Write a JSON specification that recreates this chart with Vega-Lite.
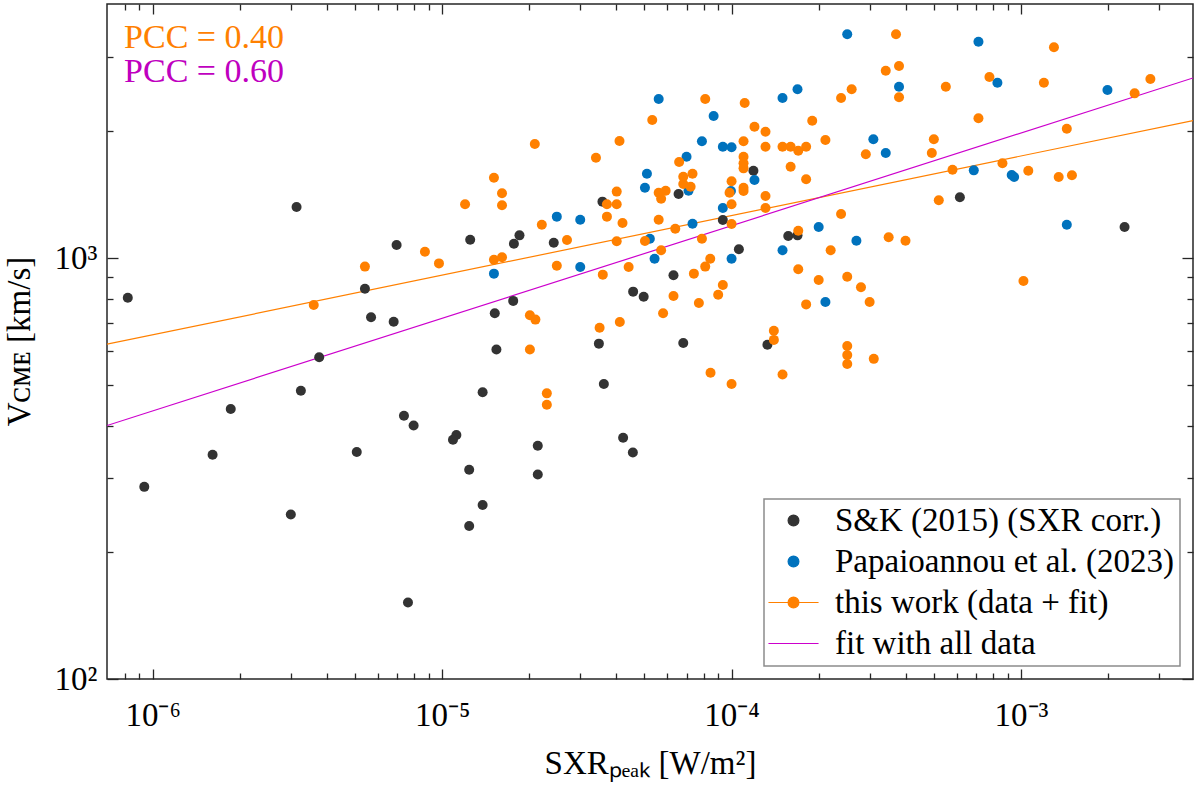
{
  "$schema": "https://vega.github.io/schema/vega-lite/v6.json",
  "width": 1086,
  "height": 675,
  "autosize": {"type": "none"},
  "padding": {"left": 107, "top": 4, "right": 7, "bottom": 109},
  "background": "white",
  "config": {
    "font": "Liberation Serif",
    "view": {"stroke": "#262626", "strokeWidth": 1.5},
    "axis": {
      "grid": false,
      "domain": false,
      "tickColor": "#262626",
      "tickWidth": 1.3,
      "labelFont": "Liberation Serif",
      "labelFontSize": 33,
      "labelColor": "#000000",
      "titleFont": "Liberation Serif",
      "titleFontSize": 33,
      "titleFontWeight": "normal",
      "titleColor": "#000000",
      "labelOverlap": false,
      "labelFlush": false,
      "labelBound": false
    }
  },
  "datasets": {
    "fits": [
      {"sxr": 6.95e-7, "v": 624, "series": "tw"},
      {"sxr": 3.93e-3, "v": 2121, "series": "tw"},
      {"sxr": 6.95e-7, "v": 400, "series": "all"},
      {"sxr": 3.93e-3, "v": 2677, "series": "all"}
    ],
    "notes": [
      {"sxr": 7.96e-7, "v": 3155, "note": "PCC = 0.40"},
      {"sxr": 7.96e-7, "v": 2620, "note": "PCC = 0.60"}
    ],
    "points": [
      {"sxr": 3.14e-6, "v": 1322, "series": "sk"},
      {"sxr": 6.96e-6, "v": 1074, "series": "sk"},
      {"sxr": 5.41e-6, "v": 845, "series": "sk"},
      {"sxr": 8.2e-7, "v": 805, "series": "sk"},
      {"sxr": 5.68e-6, "v": 723, "series": "sk"},
      {"sxr": 6.80e-6, "v": 706, "series": "sk"},
      {"sxr": 3.76e-6, "v": 581, "series": "sk"},
      {"sxr": 3.25e-6, "v": 484, "series": "sk"},
      {"sxr": 1.86e-6, "v": 438, "series": "sk"},
      {"sxr": 1.61e-6, "v": 341, "series": "sk"},
      {"sxr": 9.35e-7, "v": 286, "series": "sk"},
      {"sxr": 3.0e-6, "v": 246, "series": "sk"},
      {"sxr": 5.07e-6, "v": 346, "series": "sk"},
      {"sxr": 7.38e-6, "v": 422, "series": "sk"},
      {"sxr": 7.97e-6, "v": 400, "series": "sk"},
      {"sxr": 7.62e-6, "v": 152, "series": "sk"},
      {"sxr": 1.25e-5, "v": 1105, "series": "sk"},
      {"sxr": 1.77e-5, "v": 1081, "series": "sk"},
      {"sxr": 1.85e-5, "v": 1132, "series": "sk"},
      {"sxr": 1.76e-5, "v": 791, "series": "sk"},
      {"sxr": 2.43e-5, "v": 1087, "series": "sk"},
      {"sxr": 3.58e-5, "v": 1361, "series": "sk"},
      {"sxr": 6.56e-5, "v": 1419, "series": "sk"},
      {"sxr": 6.30e-5, "v": 910, "series": "sk"},
      {"sxr": 4.57e-5, "v": 832, "series": "sk"},
      {"sxr": 4.97e-5, "v": 809, "series": "sk"},
      {"sxr": 1.19e-4, "v": 1612, "series": "sk"},
      {"sxr": 9.33e-5, "v": 1231, "series": "sk"},
      {"sxr": 1.06e-4, "v": 1049, "series": "sk"},
      {"sxr": 1.57e-4, "v": 1128, "series": "sk"},
      {"sxr": 1.69e-4, "v": 1132, "series": "sk"},
      {"sxr": 6.15e-4, "v": 1394, "series": "sk"},
      {"sxr": 2.28e-3, "v": 1185, "series": "sk"},
      {"sxr": 1.52e-5, "v": 739, "series": "sk"},
      {"sxr": 1.54e-5, "v": 606, "series": "sk"},
      {"sxr": 1.38e-5, "v": 480, "series": "sk"},
      {"sxr": 1.12e-5, "v": 380, "series": "sk"},
      {"sxr": 1.09e-5, "v": 370, "series": "sk"},
      {"sxr": 2.14e-5, "v": 358, "series": "sk"},
      {"sxr": 1.24e-5, "v": 314, "series": "sk"},
      {"sxr": 2.14e-5, "v": 306, "series": "sk"},
      {"sxr": 1.38e-5, "v": 259, "series": "sk"},
      {"sxr": 1.24e-5, "v": 231, "series": "sk"},
      {"sxr": 3.48e-5, "v": 626, "series": "sk"},
      {"sxr": 6.81e-5, "v": 628, "series": "sk"},
      {"sxr": 1.33e-4, "v": 622, "series": "sk"},
      {"sxr": 3.62e-5, "v": 502, "series": "sk"},
      {"sxr": 4.22e-5, "v": 374, "series": "sk"},
      {"sxr": 4.56e-5, "v": 345, "series": "sk"},
      {"sxr": 1.51e-5, "v": 918, "series": "pap"},
      {"sxr": 2.49e-5, "v": 1254, "series": "pap"},
      {"sxr": 3.0e-5, "v": 1233, "series": "pap"},
      {"sxr": 3.0e-5, "v": 952, "series": "pap"},
      {"sxr": 5.60e-5, "v": 2387, "series": "pap"},
      {"sxr": 5.10e-5, "v": 1586, "series": "pap"},
      {"sxr": 5.02e-5, "v": 1469, "series": "pap"},
      {"sxr": 5.22e-5, "v": 1111, "series": "pap"},
      {"sxr": 5.42e-5, "v": 996, "series": "pap"},
      {"sxr": 6.99e-5, "v": 1740, "series": "pap"},
      {"sxr": 7.10e-5, "v": 1445, "series": "pap"},
      {"sxr": 7.33e-5, "v": 1206, "series": "pap"},
      {"sxr": 8.67e-5, "v": 2175, "series": "pap"},
      {"sxr": 7.90e-5, "v": 1893, "series": "pap"},
      {"sxr": 9.33e-5, "v": 1838, "series": "pap"},
      {"sxr": 1.0e-4, "v": 1832, "series": "pap"},
      {"sxr": 1.20e-4, "v": 1532, "series": "pap"},
      {"sxr": 9.95e-5, "v": 1443, "series": "pap"},
      {"sxr": 9.33e-5, "v": 1315, "series": "pap"},
      {"sxr": 1.0e-4, "v": 996, "series": "pap"},
      {"sxr": 1.50e-4, "v": 2399, "series": "pap"},
      {"sxr": 1.69e-4, "v": 2516, "series": "pap"},
      {"sxr": 1.50e-4, "v": 1043, "series": "pap"},
      {"sxr": 2.51e-4, "v": 3400, "series": "pap"},
      {"sxr": 7.13e-4, "v": 3265, "series": "pap"},
      {"sxr": 3.79e-4, "v": 2552, "series": "pap"},
      {"sxr": 8.29e-4, "v": 2608, "series": "pap"},
      {"sxr": 1.99e-3, "v": 2506, "series": "pap"},
      {"sxr": 3.09e-4, "v": 1914, "series": "pap"},
      {"sxr": 3.41e-4, "v": 1776, "series": "pap"},
      {"sxr": 6.87e-4, "v": 1615, "series": "pap"},
      {"sxr": 9.29e-4, "v": 1574, "series": "pap"},
      {"sxr": 9.47e-4, "v": 1557, "series": "pap"},
      {"sxr": 2.0e-4, "v": 1185, "series": "pap"},
      {"sxr": 2.70e-4, "v": 1099, "series": "pap"},
      {"sxr": 1.44e-3, "v": 1200, "series": "pap"},
      {"sxr": 2.11e-4, "v": 786, "series": "pap"},
      {"sxr": 5.41e-6, "v": 954, "series": "tw"},
      {"sxr": 3.60e-6, "v": 773, "series": "tw"},
      {"sxr": 8.72e-6, "v": 1035, "series": "tw"},
      {"sxr": 9.75e-6, "v": 971, "series": "tw"},
      {"sxr": 1.20e-5, "v": 1342, "series": "tw"},
      {"sxr": 1.51e-5, "v": 1551, "series": "tw"},
      {"sxr": 1.61e-5, "v": 1425, "series": "tw"},
      {"sxr": 1.61e-5, "v": 1334, "series": "tw"},
      {"sxr": 2.09e-5, "v": 1866, "series": "tw"},
      {"sxr": 1.51e-5, "v": 991, "series": "tw"},
      {"sxr": 1.61e-5, "v": 1004, "series": "tw"},
      {"sxr": 2.21e-5, "v": 1200, "series": "tw"},
      {"sxr": 2.70e-5, "v": 1103, "series": "tw"},
      {"sxr": 2.49e-5, "v": 959, "series": "tw"},
      {"sxr": 3.40e-5, "v": 1730, "series": "tw"},
      {"sxr": 3.71e-5, "v": 1342, "series": "tw"},
      {"sxr": 4.01e-5, "v": 1438, "series": "tw"},
      {"sxr": 4.01e-5, "v": 1342, "series": "tw"},
      {"sxr": 3.71e-5, "v": 1254, "series": "tw"},
      {"sxr": 4.20e-5, "v": 1211, "series": "tw"},
      {"sxr": 4.01e-5, "v": 1096, "series": "tw"},
      {"sxr": 3.59e-5, "v": 913, "series": "tw"},
      {"sxr": 4.41e-5, "v": 952, "series": "tw"},
      {"sxr": 4.10e-5, "v": 1896, "series": "tw"},
      {"sxr": 5.32e-5, "v": 2127, "series": "tw"},
      {"sxr": 5.60e-5, "v": 1429, "series": "tw"},
      {"sxr": 5.92e-5, "v": 1445, "series": "tw"},
      {"sxr": 5.71e-5, "v": 1383, "series": "tw"},
      {"sxr": 5.60e-5, "v": 1233, "series": "tw"},
      {"sxr": 5.02e-5, "v": 1097, "series": "tw"},
      {"sxr": 5.71e-5, "v": 1043, "series": "tw"},
      {"sxr": 6.39e-5, "v": 1174, "series": "tw"},
      {"sxr": 6.30e-5, "v": 812, "series": "tw"},
      {"sxr": 6.59e-5, "v": 1690, "series": "tw"},
      {"sxr": 6.81e-5, "v": 1560, "series": "tw"},
      {"sxr": 7.33e-5, "v": 1586, "series": "tw"},
      {"sxr": 6.81e-5, "v": 1499, "series": "tw"},
      {"sxr": 7.22e-5, "v": 1477, "series": "tw"},
      {"sxr": 7.90e-5, "v": 1111, "series": "tw"},
      {"sxr": 7.41e-5, "v": 918, "series": "tw"},
      {"sxr": 8.44e-5, "v": 996, "series": "tw"},
      {"sxr": 8.11e-5, "v": 954, "series": "tw"},
      {"sxr": 9.33e-5, "v": 863, "series": "tw"},
      {"sxr": 8.99e-5, "v": 818, "series": "tw"},
      {"sxr": 8.11e-5, "v": 2387, "series": "tw"},
      {"sxr": 1.11e-4, "v": 2335, "series": "tw"},
      {"sxr": 1.10e-4, "v": 1893, "series": "tw"},
      {"sxr": 1.10e-4, "v": 1740, "series": "tw"},
      {"sxr": 1.10e-4, "v": 1679, "series": "tw"},
      {"sxr": 1.10e-4, "v": 1633, "series": "tw"},
      {"sxr": 1.0e-4, "v": 1521, "series": "tw"},
      {"sxr": 9.84e-5, "v": 1429, "series": "tw"},
      {"sxr": 1.10e-4, "v": 1469, "series": "tw"},
      {"sxr": 1.10e-4, "v": 1443, "series": "tw"},
      {"sxr": 1.0e-4, "v": 1342, "series": "tw"},
      {"sxr": 1.0e-4, "v": 1204, "series": "tw"},
      {"sxr": 1.31e-4, "v": 1404, "series": "tw"},
      {"sxr": 1.31e-4, "v": 1315, "series": "tw"},
      {"sxr": 1.20e-4, "v": 2051, "series": "tw"},
      {"sxr": 1.31e-4, "v": 1995, "series": "tw"},
      {"sxr": 1.31e-4, "v": 1838, "series": "tw"},
      {"sxr": 1.50e-4, "v": 1838, "series": "tw"},
      {"sxr": 1.60e-4, "v": 1838, "series": "tw"},
      {"sxr": 1.70e-4, "v": 1798, "series": "tw"},
      {"sxr": 1.81e-4, "v": 1838, "series": "tw"},
      {"sxr": 1.60e-4, "v": 1648, "series": "tw"},
      {"sxr": 1.70e-4, "v": 1161, "series": "tw"},
      {"sxr": 1.70e-4, "v": 940, "series": "tw"},
      {"sxr": 3.70e-4, "v": 3400, "series": "tw"},
      {"sxr": 1.30e-3, "v": 3166, "series": "tw"},
      {"sxr": 3.41e-4, "v": 2786, "series": "tw"},
      {"sxr": 3.79e-4, "v": 2858, "series": "tw"},
      {"sxr": 2.60e-4, "v": 2516, "series": "tw"},
      {"sxr": 2.39e-4, "v": 2399, "series": "tw"},
      {"sxr": 3.79e-4, "v": 2408, "series": "tw"},
      {"sxr": 5.50e-4, "v": 2552, "series": "tw"},
      {"sxr": 7.78e-4, "v": 2691, "series": "tw"},
      {"sxr": 1.20e-3, "v": 2608, "series": "tw"},
      {"sxr": 2.47e-3, "v": 2461, "series": "tw"},
      {"sxr": 2.80e-3, "v": 2662, "series": "tw"},
      {"sxr": 1.90e-4, "v": 2119, "series": "tw"},
      {"sxr": 7.13e-4, "v": 2147, "series": "tw"},
      {"sxr": 1.44e-3, "v": 2028, "series": "tw"},
      {"sxr": 2.11e-4, "v": 1907, "series": "tw"},
      {"sxr": 2.91e-4, "v": 1764, "series": "tw"},
      {"sxr": 5.0e-4, "v": 1914, "series": "tw"},
      {"sxr": 4.92e-4, "v": 1776, "series": "tw"},
      {"sxr": 1.81e-4, "v": 1538, "series": "tw"},
      {"sxr": 5.80e-4, "v": 1621, "series": "tw"},
      {"sxr": 8.63e-4, "v": 1679, "series": "tw"},
      {"sxr": 1.06e-3, "v": 1612, "series": "tw"},
      {"sxr": 1.35e-3, "v": 1557, "series": "tw"},
      {"sxr": 1.50e-3, "v": 1572, "series": "tw"},
      {"sxr": 5.20e-4, "v": 1371, "series": "tw"},
      {"sxr": 2.39e-4, "v": 1272, "series": "tw"},
      {"sxr": 3.49e-4, "v": 1120, "series": "tw"},
      {"sxr": 3.99e-4, "v": 1099, "series": "tw"},
      {"sxr": 2.20e-4, "v": 1043, "series": "tw"},
      {"sxr": 2.0e-4, "v": 887, "series": "tw"},
      {"sxr": 2.51e-4, "v": 903, "series": "tw"},
      {"sxr": 2.80e-4, "v": 852, "series": "tw"},
      {"sxr": 1.02e-3, "v": 882, "series": "tw"},
      {"sxr": 3.0e-4, "v": 786, "series": "tw"},
      {"sxr": 1.81e-4, "v": 776, "series": "tw"},
      {"sxr": 2.51e-4, "v": 618, "series": "tw"},
      {"sxr": 2.51e-4, "v": 588, "series": "tw"},
      {"sxr": 2.51e-4, "v": 560, "series": "tw"},
      {"sxr": 3.10e-4, "v": 576, "series": "tw"},
      {"sxr": 2.01e-5, "v": 731, "series": "tw"},
      {"sxr": 2.10e-5, "v": 714, "series": "tw"},
      {"sxr": 2.01e-5, "v": 606, "series": "tw"},
      {"sxr": 2.30e-5, "v": 477, "series": "tw"},
      {"sxr": 2.30e-5, "v": 448, "series": "tw"},
      {"sxr": 7.71e-5, "v": 782, "series": "tw"},
      {"sxr": 5.80e-5, "v": 739, "series": "tw"},
      {"sxr": 4.11e-5, "v": 705, "series": "tw"},
      {"sxr": 3.50e-5, "v": 683, "series": "tw"},
      {"sxr": 1.40e-4, "v": 672, "series": "tw"},
      {"sxr": 1.40e-4, "v": 639, "series": "tw"},
      {"sxr": 8.46e-5, "v": 534, "series": "tw"},
      {"sxr": 1.0e-4, "v": 502, "series": "tw"},
      {"sxr": 1.50e-4, "v": 529, "series": "tw"}
    ]
  },
  "layer": [
    {
      "data": {"name": "fits"},
      "mark": {"type": "line", "strokeWidth": 1.2, "clip": true},
      "encoding": {
        "x": {
          "field": "sxr",
          "type": "quantitative",
          "scale": {"type": "log", "domain": [6.95e-7, 3.93e-3], "nice": false},
          "axis": {
            "orient": "bottom",
            "values": [8e-7, 9e-7, 1e-6, 2e-6, 3e-6, 4e-6, 5e-6, 6e-6, 7e-6, 8e-6, 9e-6, 1e-5, 2e-5, 3e-5, 4e-5, 5e-5, 6e-5, 7e-5, 8e-5, 9e-5, 1e-4, 2e-4, 3e-4, 4e-4, 5e-4, 6e-4, 7e-4, 8e-4, 9e-4, 1e-3, 2e-3, 3e-3],
            "labelExpr": "datum.value == 1e-6 ? '10\u207b\u2076' : datum.value == 1e-5 ? '10\u207b\u2075' : datum.value == 1e-4 ? '10\u207b\u2074' : datum.value == 1e-3 ? '10\u207b\u00b3' : ''",
            "tickSize": {"condition": {"test": "datum.value == 1e-6 || datum.value == 1e-5 || datum.value == 1e-4 || datum.value == 1e-3", "value": -10}, "value": -6},
            "labelPadding": 56,
            "labelBaseline": "alphabetic",
            "title": "SXR\u209a\u2091\u2090\u2096  [W/m\u00b2]",
            "titleX": 543,
            "titleY": 94,
            "titleAlign": "center",
            "titleBaseline": "alphabetic"
          }
        },
        "y": {
          "field": "v",
          "type": "quantitative",
          "scale": {"type": "log", "domain": [100, 4012], "nice": false},
          "axis": {
            "orient": "left",
            "values": [100, 200, 300, 400, 500, 600, 700, 800, 900, 1000, 2000, 3000],
            "labelExpr": "datum.value == 100 ? '10\u00b2' : datum.value == 1000 ? '10\u00b3' : ''",
            "tickSize": {"condition": {"test": "datum.value == 100 || datum.value == 1000", "value": -11}, "value": -6},
            "labelPadding": 21,
            "title": "V\u1d04\u1d0d\u1d07  [km/s]",
            "titleAngle": -90,
            "titleX": -78,
            "titleY": 337,
            "titleAlign": "center",
            "titleBaseline": "alphabetic"
          }
        },
        "color": {
          "field": "series",
          "type": "nominal",
          "scale": {
            "domain": ["sk", "pap", "tw", "all"],
            "range": ["#333333", "#0072BD", "#FF8000", "#CC00CC"]
          },
          "legend": {
            "orient": "none",
            "legendX": 657,
            "legendY": 495,
            "title": null,
            "labelExpr": "datum.value == 'sk' ? 'S&K (2015) (SXR corr.)' : datum.value == 'pap' ? 'Papaioannou et al. (2023)' : datum.value == 'tw' ? 'this work (data + fit)' : 'fit with all data'",
            "labelFont": "Liberation Serif",
            "labelFontSize": 33,
            "labelColor": "#000000",
            "labelLimit": 0,
            "symbolSize": 900,
            "symbolOffset": 8,
            "labelOffset": 25,
            "padding": 5,
            "rowPadding": 7,
            "strokeColor": "#8c8c8c",
            "fillColor": "#ffffff",
            "encode": {
              "symbols": {
                "update": {
                  "shape": {"signal": "datum.value == 'tw' ? 'M-1.67,0H1.67M-0.36,0A0.36,0.36,0,1,1,0.36,0A0.36,0.36,0,1,1,-0.36,0Z' : datum.value == 'all' ? 'M-1.67,0H1.67' : 'M-0.36,0A0.36,0.36,0,1,1,0.36,0A0.36,0.36,0,1,1,-0.36,0Z'"},
                  "fill": {"signal": "scale('color', datum.value)"},
                  "stroke": {"signal": "datum.value == 'tw' ? '#FFB060' : datum.value == 'all' ? '#E38BE3' : scale('color', datum.value)"},
                  "strokeWidth": {"value": 1.2},
                  "opacity": {"value": 1}
                }
              },
              "legend": {"update": {"strokeWidth": {"value": 1.5}}}
            }
          }
        }
      }
    },
    {
      "data": {"name": "points"},
      "mark": {"type": "circle", "size": 100, "opacity": 1},
      "encoding": {
        "x": {
          "field": "sxr",
          "type": "quantitative",
          "scale": {"type": "log", "domain": [6.95e-7, 3.93e-3], "nice": false},
          "axis": {
            "orient": "top",
            "values": [8e-7, 9e-7, 1e-6, 2e-6, 3e-6, 4e-6, 5e-6, 6e-6, 7e-6, 8e-6, 9e-6, 1e-5, 2e-5, 3e-5, 4e-5, 5e-5, 6e-5, 7e-5, 8e-5, 9e-5, 1e-4, 2e-4, 3e-4, 4e-4, 5e-4, 6e-4, 7e-4, 8e-4, 9e-4, 1e-3, 2e-3, 3e-3],
            "labels": false,
            "title": null,
            "tickSize": {"condition": {"test": "datum.value == 1e-6 || datum.value == 1e-5 || datum.value == 1e-4 || datum.value == 1e-3", "value": -10}, "value": -6}
          }
        },
        "y": {
          "field": "v",
          "type": "quantitative",
          "scale": {"type": "log", "domain": [100, 4012], "nice": false},
          "axis": {
            "orient": "right",
            "values": [100, 200, 300, 400, 500, 600, 700, 800, 900, 1000, 2000, 3000],
            "labels": false,
            "title": null,
            "tickSize": {"condition": {"test": "datum.value == 100 || datum.value == 1000", "value": -11}, "value": -6}
          }
        },
        "color": {"field": "series", "type": "nominal"}
      }
    },
    {
      "data": {"name": "notes"},
      "mark": {"type": "text", "align": "left", "baseline": "alphabetic", "fontSize": 34, "font": "Liberation Serif"},
      "encoding": {
        "x": {"field": "sxr", "type": "quantitative", "scale": {"type": "log", "domain": [6.95e-7, 3.93e-3], "nice": false}, "axis": null},
        "y": {"field": "v", "type": "quantitative", "scale": {"type": "log", "domain": [100, 4012], "nice": false}, "axis": null},
        "text": {"field": "note"},
        "color": {"condition": {"test": "datum.note == 'PCC = 0.40'", "value": "#FF8000"}, "value": "#BF00BF"}
      }
    }
  ],
  "resolve": {"axis": {"x": "independent", "y": "independent"}}
}
